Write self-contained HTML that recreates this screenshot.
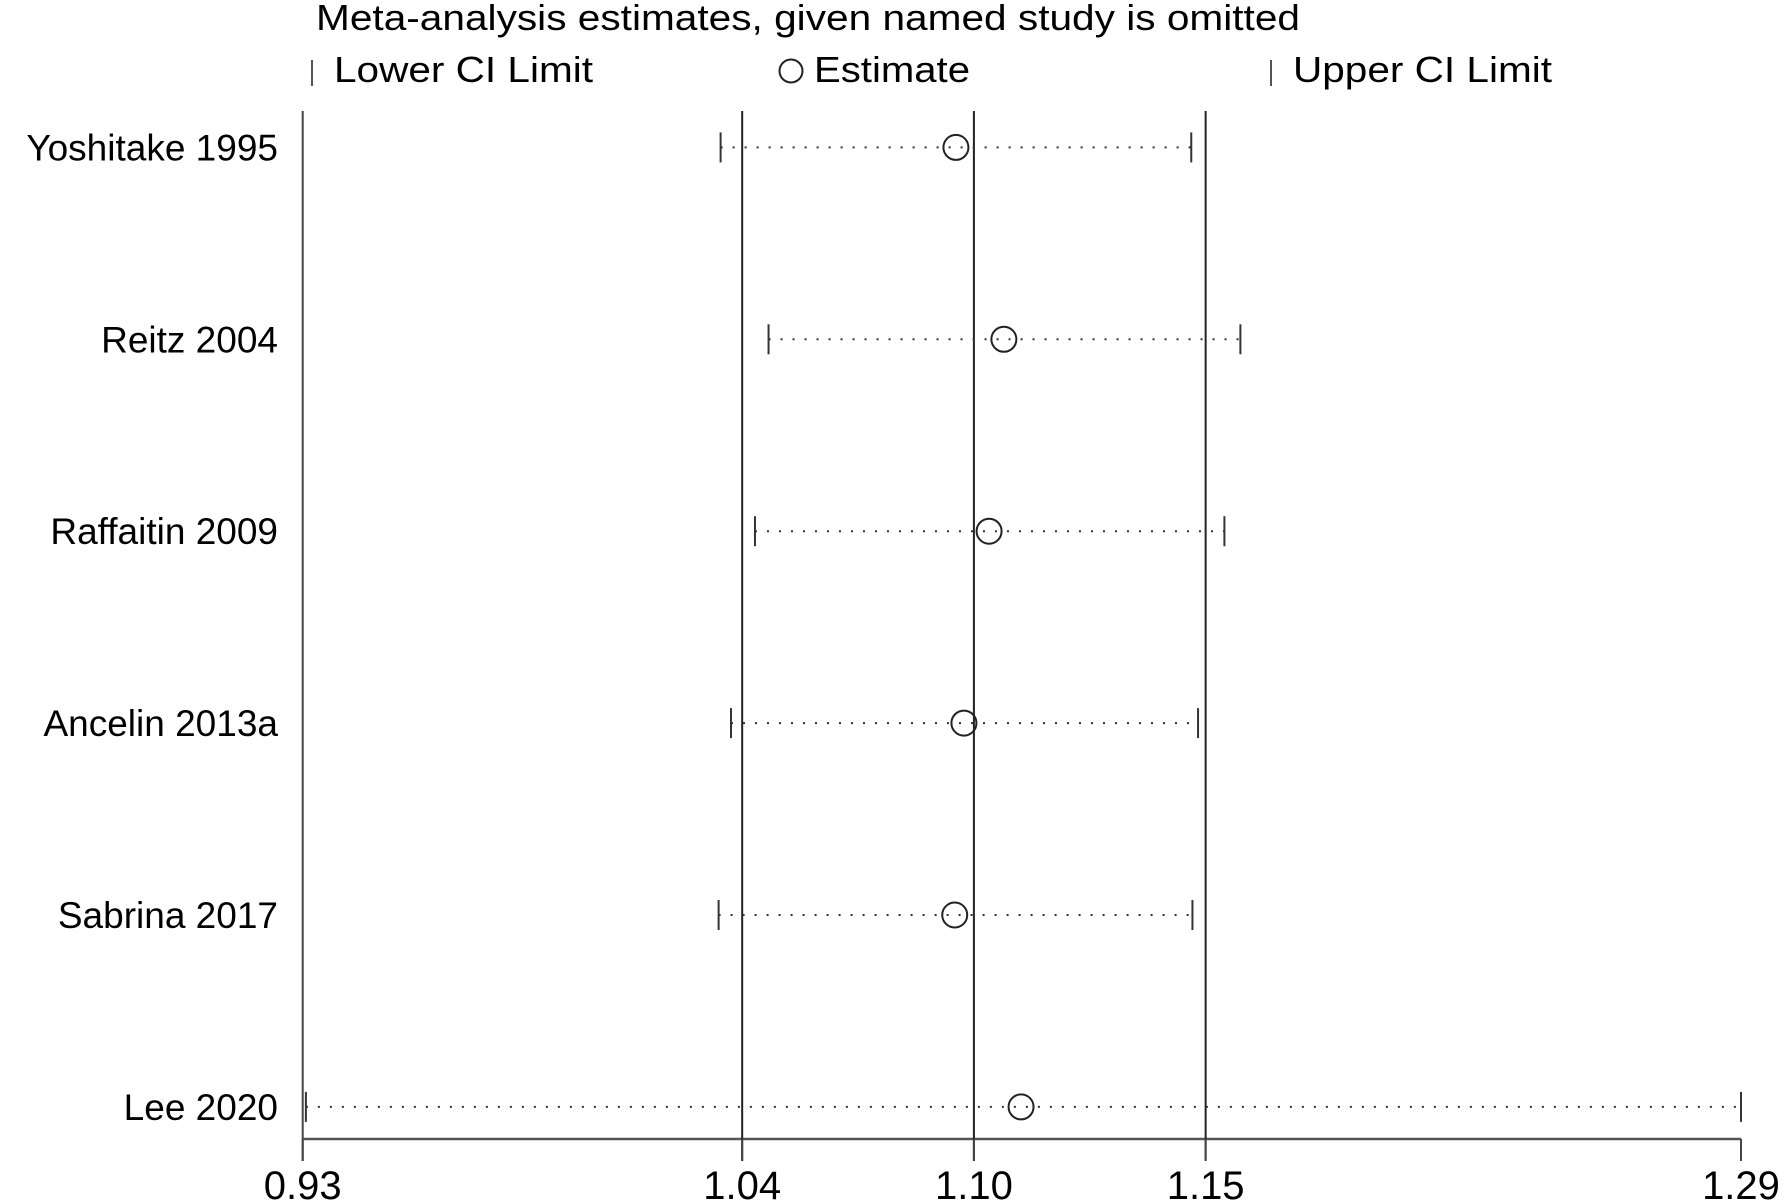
<!DOCTYPE html>
<html><head><meta charset="utf-8"><style>
html,body{margin:0;padding:0;background:#fff;}
svg{display:block;font-family:"Liberation Sans",Arial,sans-serif;}
</style></head><body>
<svg id="chart" width="1791" height="1203" viewBox="0 0 1791 1203" xmlns="http://www.w3.org/2000/svg">
<text x="316" y="30" font-size="36" textLength="984" lengthAdjust="spacingAndGlyphs">Meta-analysis estimates, given named study is omitted</text>
<g>
<line x1="312" y1="60" x2="312" y2="86" stroke="#555" stroke-width="2"/>
<text x="334" y="82" font-size="36" textLength="259" lengthAdjust="spacingAndGlyphs">Lower CI Limit</text>
<circle cx="791" cy="71" r="11.5" fill="none" stroke="#222" stroke-width="2"/>
<text x="814" y="82" font-size="36" textLength="156" lengthAdjust="spacingAndGlyphs">Estimate</text>
<line x1="1271" y1="60" x2="1271" y2="86" stroke="#555" stroke-width="2"/>
<text x="1293" y="82" font-size="36" textLength="259" lengthAdjust="spacingAndGlyphs">Upper CI Limit</text>
</g>
<g id="plot"></g>
</svg>
<script>
const studies=["Yoshitake 1995","Reitz 2004","Raffaitin 2009","Ancelin 2013a","Sabrina 2017","Lee 2020"];
const lower=[1.0346,1.0466,1.0432,1.0372,1.0341,0.9308];
const estimate=[1.0935,1.1055,1.1018,1.0955,1.0932,1.1098];
const upper=[1.1524,1.1647,1.1607,1.1541,1.1527,1.29];
const tickValues=[0.93,1.04,1.098,1.156,1.29];
const tickLabels=["0.93","1.04","1.10","1.15","1.29"];
const refLines=[1.04,1.098,1.156];

const xMin=0.93,xMax=1.29,x0=302.7,x1=1741;
const sx=v=>x0+(v-xMin)/(xMax-xMin)*(x1-x0);
const rowY0=147.4,rowStep=191.9;
const sy=i=>rowY0+i*rowStep;
const plotTop=111,axisY=1139,tickBottom=1161;
const NS="http://www.w3.org/2000/svg";
const plotG=document.getElementById('plot');
function mk(tag,attrs){const e=document.createElementNS(NS,tag);for(const k in attrs)e.setAttribute(k,attrs[k]);plotG.appendChild(e);return e;}

let el=mk('line',{x1:x0,y1:plotTop,x2:x0,y2:tickBottom,stroke:'#444','stroke-width':2});


el=mk('line',{x1:x0,y1:axisY,x2:x1,y2:axisY,stroke:'#555','stroke-width':2.5});


refLines.forEach(v=>{
  const l=mk('line',{x1:sx(v),y1:plotTop,x2:sx(v),y2:tickBottom,stroke:'#222','stroke-width':2});
  
  
});
tickValues.forEach((v,i)=>{
  const t=mk('line',{x1:sx(v),y1:axisY,x2:sx(v),y2:tickBottom,stroke:'#444','stroke-width':2});
  
  
  const tx=mk('text',{x:sx(v),y:1199,'font-size':40,'text-anchor':'middle'});
  tx.textContent=tickLabels[i];
  
  
});
studies.forEach((s,i)=>{
  const y=sy(i);
  const lb=mk('text',{x:278,y:y+13,'font-size':37,'text-anchor':'end'});
  lb.textContent=s;
  
  
  const ci=mk('line',{x1:sx(lower[i]),y1:y,x2:sx(upper[i]),y2:y,stroke:'#333','stroke-width':2,'stroke-dasharray':'2 10'});
  
  
  const lc=mk('line',{x1:sx(lower[i]),y1:y-15,x2:sx(lower[i]),y2:y+15,stroke:'#333','stroke-width':2});
  
  
  const uc=mk('line',{x1:sx(upper[i]),y1:y-15,x2:sx(upper[i]),y2:y+15,stroke:'#333','stroke-width':2});
  
  
  const c=mk('circle',{cx:sx(estimate[i]),cy:y,r:12.5,fill:'none',stroke:'#222','stroke-width':2});
  
  
});
</script>
</body></html>
